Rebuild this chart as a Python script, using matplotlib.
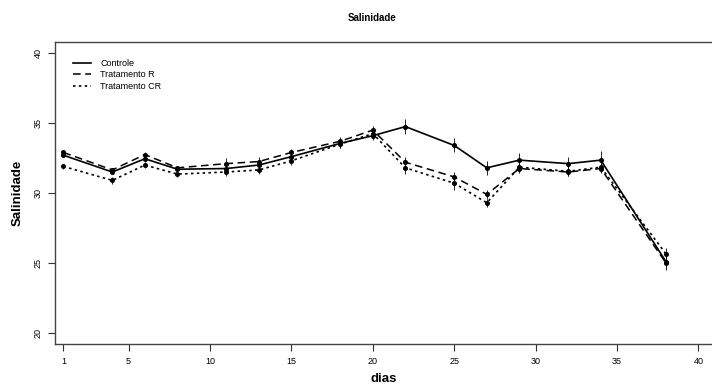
import numpy as np
import matplotlib.pyplot as plt

plt.rcParams['font.family'] = ['Liberation Sans', 'DejaVu Sans']

dias = [1, 4, 6, 8, 11, 13, 15, 18, 20, 22, 25, 27, 29, 32, 34, 38]
controle = [32.7, 31.5, 32.45, 31.7, 31.75, 32.0, 32.6, 33.55, 34.1, 34.75, 33.4, 31.8, 32.35, 32.1, 32.35, 25.1]
trat_r = [32.9, 31.65, 32.75, 31.8, 32.1, 32.25, 32.9, 33.7, 34.5, 32.2, 31.15, 29.9, 31.75, 31.5, 31.75, 25.0]
trat_cr = [31.9, 30.9, 32.0, 31.35, 31.5, 31.65, 32.3, 33.5, 34.25, 31.8, 30.7, 29.3, 31.85, 31.55, 31.85, 25.65]
err_controle = [0.15, 0.15, 0.2, 0.15, 0.15, 0.2, 0.25, 0.3, 0.3, 0.55, 0.5, 0.5, 0.5, 0.5, 0.65, 0.4]
err_r = [0.15, 0.15, 0.15, 0.15, 0.4, 0.3, 0.25, 0.3, 0.3, 0.4, 0.35, 0.3, 0.3, 0.3, 0.3, 0.5]
err_cr = [0.2, 0.25, 0.2, 0.2, 0.3, 0.3, 0.3, 0.3, 0.3, 0.45, 0.45, 0.3, 0.3, 0.3, 0.3, 0.4]

fig = plt.figure(figsize=(7.12, 3.85), dpi=100)
W, H = 712, 385
ax = fig.add_axes([55 / W, (H - 344) / H, (718 - 55) / W, (344 - 42) / H])

series = [
    (controle, err_controle, '-', 1.2, 'Controle'),
    (trat_r, err_r, (0, (5, 3)), 1.1, 'Tratamento R'),
    (trat_cr, err_cr, (0, (1.5, 2)), 1.2, 'Tratamento CR'),
]
for vals, err, ls, lw, lab in series:
    ax.plot(dias, vals, color='black', linestyle=ls, linewidth=lw,
            marker='o', markersize=2.6, label=lab)
    ax.errorbar(dias, vals, yerr=err, fmt='none', ecolor='black',
                elinewidth=0.6, capsize=0, linestyle=ls)

ax.set_xlim(0.48, 41.2)
ax.set_ylim(19.2, 40.8)
ax.set_xticks([1, 5, 10, 15, 20, 25, 30, 35, 40])
ax.set_yticks([20, 25, 30, 35, 40])
ax.tick_params(axis='both', length=5, width=0.8, colors='#333333', labelsize=6.5,
               labelcolor='black')
ax.tick_params(axis='x', pad=4)
for lbl in ax.get_yticklabels():
    lbl.set_rotation(90)
    lbl.set_va('center')
ax.tick_params(axis='y', pad=4)
for sp in ax.spines.values():
    sp.set_color('#444444')
    sp.set_linewidth(1.0)

leg_lines = [plt.Line2D([], [], color='black', linestyle=s[2], linewidth=s[3]) for s in series]
ax.legend(leg_lines, [s[4] for s in series], loc='upper left', frameon=False,
          fontsize=6.5, handlelength=2.0, handletextpad=1.0, labelspacing=0.25,
          bbox_to_anchor=(0.015, 0.97))

fig.text(372 / W, 1 - 18 / H, 'Salinidade', ha='center', va='center',
         fontsize=7, fontweight='bold')
fig.text(384 / W, 1 - 379 / H, 'dias', ha='center', va='center',
         fontsize=9.5, fontweight='bold')
fig.text(18 / W, 1 - 193 / H, 'Salinidade', ha='center', va='center',
         fontsize=9.5, fontweight='bold', rotation=90)

fig.savefig('out.png', dpi=100)
